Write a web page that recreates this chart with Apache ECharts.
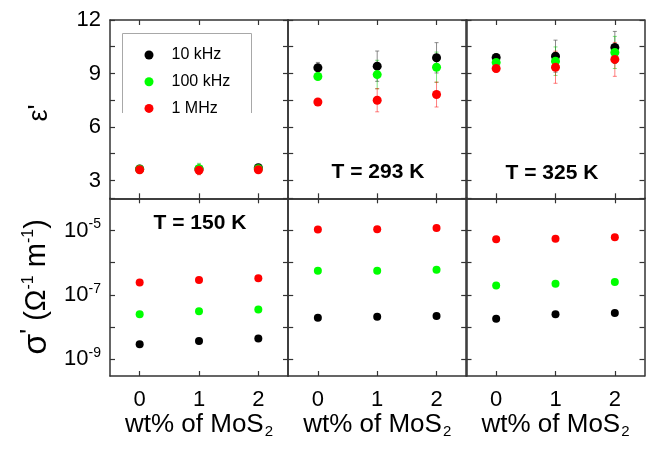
<!DOCTYPE html>
<html><head><meta charset="utf-8">
<script src="https://cdn.jsdelivr.net/npm/echarts@6/dist/echarts.min.js"></script>
<style>html,body{margin:0;padding:0;background:#fff}#c{width:649px;height:450px}</style>
</head><body><div id="c"></div>
<script>
// ---- data ----
const wtPercent = [0, 1, 2];
const tempLabels = ['T = 150 K', 'T = 293 K', 'T = 325 K'];
const freqNames = ['10 kHz', '100 kHz', '1 MHz'];
const epsTicks = [3, 4.5, 6, 7.5, 9, 10.5, 12];
const epsTickLabels = [3, 6, 9, 12];
const sigTicks = [1e-9, 1e-8, 1e-7, 1e-6, 1e-5, 1e-4];
const sigTickLabels = [1e-9, 1e-7, 1e-5];

// permittivity eps' (value, error)
const eps10k_150 = [3.65, 3.65, 3.72];   const eps10kErr_150 = [0.1, 0.15, 0.1];
const eps100k_150 = [3.63, 3.66, 3.66];  const eps100kErr_150 = [0.1, 0.3, 0.1];
const eps1M_150 = [3.60, 3.57, 3.60];    const eps1MErr_150 = [0.1, 0.25, 0.15];
const eps10k_293 = [9.32, 9.41, 9.88];   const eps10kErr_293 = [0.3, 0.85, 0.85];
const eps100k_293 = [8.83, 8.94, 9.35];  const eps100kErr_293 = [0.15, 0.8, 0.85];
const eps1M_293 = [7.40, 7.50, 7.82];    const eps1MErr_293 = [0.1, 0.65, 0.7];
const eps10k_325 = [9.90, 9.97, 10.46];  const eps10kErr_325 = [0.2, 0.9, 0.9];
const eps100k_325 = [9.62, 9.69, 10.18]; const eps100kErr_325 = [0.2, 0.8, 0.9];
const eps1M_325 = [9.28, 9.35, 9.79];    const eps1MErr_325 = [0.2, 0.9, 0.95];

// conductivity sigma' (Ohm^-1 m^-1)
const sig10k_150 = [2.9e-9, 3.7e-9, 4.4e-9];
const sig100k_150 = [2.5e-8, 3.1e-8, 3.5e-8];
const sig1M_150 = [2.4e-7, 2.9e-7, 3.3e-7];
const sig10k_293 = [1.95e-8, 2.1e-8, 2.2e-8];
const sig100k_293 = [5.6e-7, 5.6e-7, 6.0e-7];
const sig1M_293 = [1.07e-5, 1.1e-5, 1.2e-5];
const sig10k_325 = [1.8e-8, 2.5e-8, 2.7e-8];
const sig100k_325 = [1.94e-7, 2.2e-7, 2.5e-7];
const sig1M_325 = [5.3e-6, 5.5e-6, 6.2e-6];

const colors = ['#000000', '#00ff00', '#ff0000'];
const errColors = ['rgba(90,90,90,0.7)', 'rgba(0,200,0,0.5)', 'rgba(255,0,0,0.5)'];

const epsSets = [
  [[eps10k_150, eps10kErr_150], [eps100k_150, eps100kErr_150], [eps1M_150, eps1MErr_150]],
  [[eps10k_293, eps10kErr_293], [eps100k_293, eps100kErr_293], [eps1M_293, eps1MErr_293]],
  [[eps10k_325, eps10kErr_325], [eps100k_325, eps100kErr_325], [eps1M_325, eps1MErr_325]]
];
const sigSets = [
  [sig10k_150, sig100k_150, sig1M_150],
  [sig10k_293, sig100k_293, sig1M_293],
  [sig10k_325, sig100k_325, sig1M_325]
];

// ---- layout ----
const FONT = '"Liberation Sans", Arial, sans-serif';
const lefts = [110, 288.2, 466.5];
const W = 178;
const tops = [20, 198.3];
const heights = [178.3, 177.7];
const axisLine = { show: true, onZero: false, lineStyle: { color: '#333', width: 1.5 } };
const tickStyle = { color: '#333', width: 1.2 };

const grids = [], xAxes = [], yAxes = [], series = [];
for (let r = 0; r < 2; r++) {
  for (let c = 0; c < 3; c++) {
    const g = r * 3 + c;
    grids.push({ left: lefts[c], top: tops[r], width: W, height: heights[r] });
    const xBase = {
      gridIndex: g, type: 'value', min: -0.5, max: 2.5,
      axisLine, splitLine: { show: false },
      axisTick: { show: true, inside: true, length: 5, customValues: wtPercent, lineStyle: tickStyle }
    };
    xAxes.push(Object.assign({}, xBase, {
      position: 'bottom',
      axisLabel: { show: r === 1, customValues: wtPercent, fontSize: 22, color: '#000', fontFamily: FONT, margin: 13 },
      name: r === 1 ? 'wt% of MoS{sub|2}' : '',
      nameLocation: 'middle', nameGap: 31,
      nameTextStyle: { fontSize: 26, color: '#000', fontFamily: FONT,
        rich: { sub: { fontSize: 15, color: '#000', fontFamily: FONT, padding: [14, 0, 0, 1] } } }
    }));
    xAxes.push(Object.assign({}, xBase, { position: 'top', axisLabel: { show: false } }));
    let yBase;
    if (r === 0) {
      yBase = {
        gridIndex: g, type: 'value', min: 2, max: 12,
        axisLine, splitLine: { show: false },
        axisTick: { show: true, inside: true, length: 5, customValues: epsTicks, lineStyle: tickStyle }
      };
      yAxes.push(Object.assign({}, yBase, { position: 'left',
        axisLabel: { show: c === 0, customValues: epsTickLabels, fontSize: 22, color: '#000', fontFamily: FONT, margin: 9 } }));
    } else {
      yBase = {
        gridIndex: g, type: 'log', logBase: 10, min: 3e-10, max: 1e-4,
        axisLine, splitLine: { show: false },
        axisTick: { show: true, inside: true, length: 5, customValues: sigTicks, lineStyle: tickStyle }
      };
      yAxes.push(Object.assign({}, yBase, { position: 'left',
        axisLabel: { show: c === 0, customValues: sigTickLabels, fontSize: 22, color: '#000', fontFamily: FONT, margin: 9,
          formatter: v => '10{sup|' + Math.round(Math.log10(v)) + '}',
          rich: { sup: { fontSize: 14, color: '#000', fontFamily: FONT, padding: [0, 0, 12, 0] } } } }));
    }
    yAxes.push(Object.assign({}, yBase, { position: 'right', axisLabel: { show: false } }));

    for (let k = 0; k < 3; k++) {
      if (r === 0) {
        const [vals, errs] = epsSets[c][k];
        series.push({
          type: 'scatter', name: freqNames[k], xAxisIndex: 2 * g, yAxisIndex: 2 * g, z: 2,
          symbol: 'circle', symbolSize: 9, itemStyle: { color: colors[k], opacity: 1 },
          data: wtPercent.map((x, i) => [x, vals[i]])
        });
        series.push({
          type: 'custom', name: freqNames[k], xAxisIndex: 2 * g, yAxisIndex: 2 * g, z: 1,
          itemStyle: { color: colors[k] },
          data: wtPercent.map((x, i) => [x, vals[i] - errs[i], vals[i] + errs[i]]),
          encode: { x: 0, y: [1, 2] }, silent: true,
          renderItem: ((col) => (params, api) => {
            const x = api.value(0);
            const p1 = api.coord([x, api.value(1)]);
            const p2 = api.coord([x, api.value(2)]);
            const cap = 2;
            const st = { stroke: col, lineWidth: 1 };
            return { type: 'group', children: [
              { type: 'line', shape: { x1: p1[0], y1: p1[1], x2: p2[0], y2: p2[1] }, style: st },
              { type: 'line', shape: { x1: p1[0] - cap, y1: p1[1], x2: p1[0] + cap, y2: p1[1] }, style: st },
              { type: 'line', shape: { x1: p2[0] - cap, y1: p2[1], x2: p2[0] + cap, y2: p2[1] }, style: st }
            ] };
          })(errColors[k])
        });
      } else {
        const vals = sigSets[c][k];
        series.push({
          type: 'scatter', name: freqNames[k], xAxisIndex: 2 * g, yAxisIndex: 2 * g, z: 2,
          symbol: 'circle', symbolSize: 8, itemStyle: { color: colors[k], opacity: 1 },
          data: wtPercent.map((x, i) => [x, vals[i]])
        });
      }
    }
  }
}

const chart = echarts.init(document.getElementById('c'), null, { renderer: 'canvas' });
chart.setOption({
  animation: false,
  backgroundColor: '#fff',
  color: colors,
  textStyle: { fontFamily: FONT },
  grid: grids, xAxis: xAxes, yAxis: yAxes, series,
  legend: {
    data: freqNames.map((n, k) => ({ name: n, icon: 'circle', itemStyle: { color: colors[k], opacity: 1 } })),
    orient: 'vertical', left: 139.5, top: 41,
    itemWidth: 9, itemHeight: 9, itemGap: 8.7,
    textStyle: { fontSize: 16, color: '#000', fontFamily: FONT, lineHeight: 18, padding: [0, 0, 0, 13] },
    selectedMode: false
  },
  graphic: [
    { type: 'polyline', silent: true, z: 100,
      shape: { points: [[122.5, 113], [122.5, 33.5], [251.5, 33.5], [251.5, 113]] },
      style: { stroke: '#a8a8a8', lineWidth: 1, fill: null } },
    { type: 'text', x: 200, y: 223, silent: true, z: 100,
      style: { text: tempLabels[0], font: 'bold 21px ' + FONT, fill: '#000', align: 'center', verticalAlign: 'middle' } },
    { type: 'text', x: 378, y: 172, silent: true, z: 100,
      style: { text: tempLabels[1], font: 'bold 21px ' + FONT, fill: '#000', align: 'center', verticalAlign: 'middle' } },
    { type: 'text', x: 552, y: 173, silent: true, z: 100,
      style: { text: tempLabels[2], font: 'bold 21px ' + FONT, fill: '#000', align: 'center', verticalAlign: 'middle' } },
    { type: 'text', x: 40, y: 113, rotation: Math.PI / 2, silent: true, z: 100,
      style: { text: "ε'", font: '27px ' + FONT, fill: '#000', align: 'center', verticalAlign: 'middle' } },
    { type: 'text', x: 37, y: 287, rotation: Math.PI / 2, silent: true, z: 100,
      style: {
        text: "{s|σ}{p|'}{n| (Ω}{sup|-1}{n| m}{sup|-1}{n|)}",
        align: 'center', verticalAlign: 'middle',
        rich: {
          s: { fontSize: 34, fontFamily: FONT, fill: '#000' },
          p: { fontSize: 26, fontFamily: FONT, fill: '#000', padding: [0, 0, 12, 0] },
          n: { fontSize: 29, fontFamily: FONT, fill: '#000' },
          sup: { fontSize: 16, fontFamily: FONT, fill: '#000', padding: [0, 0, 16, 0] }
        }
      } }
  ]
});
</script></body></html>
